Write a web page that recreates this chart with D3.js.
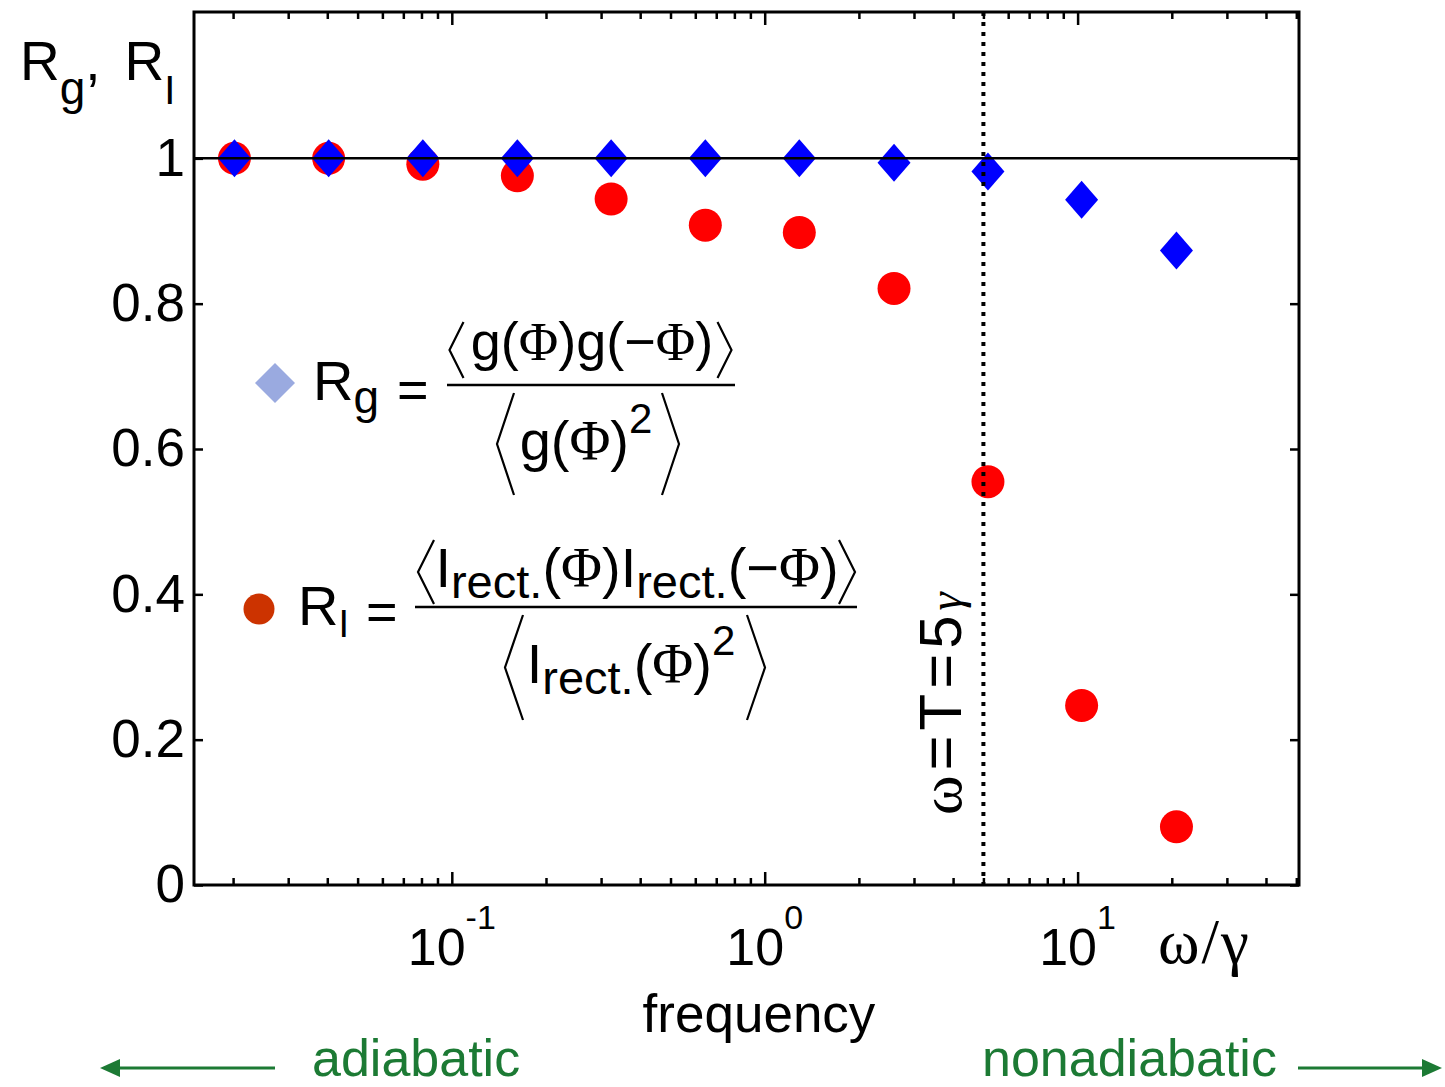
<!DOCTYPE html>
<html>
<head>
<meta charset="utf-8">
<script src="https://cdn.jsdelivr.net/npm/d3@7"></script>
<style>
  html, body { margin: 0; padding: 0; background: #fff; }
  svg { display: block; }
</style>
</head>
<body>
<script>
// ---------------- data ----------------
const freq = [0.0202, 0.0404, 0.0808, 0.162, 0.323, 0.646, 1.29, 2.59, 5.17, 10.3, 20.7];
const Rg   = [1.0, 1.0, 1.0, 1.0, 1.0, 1.0, 1.0, 0.994, 0.982, 0.943, 0.873];
const RI   = [1.0, 1.0, 0.992, 0.976, 0.944, 0.908, 0.898, 0.821, 0.555, 0.247, 0.080];
const yTicks = [0, 0.2, 0.4, 0.6, 0.8, 1];
const yTickLabels = ["0", "0.2", "0.4", "0.6", "0.8", "1"];
const xMajor = [0.1, 1, 10];
const xMajorExp = ["-1", "0", "1"];
const xMinor = [0.02, 0.03, 0.04, 0.05, 0.06, 0.07, 0.08, 0.09,
                0.2, 0.3, 0.4, 0.5, 0.6, 0.7, 0.8, 0.9,
                2, 3, 4, 5, 6, 7, 8, 9,
                20, 30, 40, 50];
const markLine = 5;          // ω = T = 5γ
const refLine = 1;           // horizontal reference R = 1
const xDomain = [0.015, 51];
const yDomain = [0, 1.2];

// ---------------- setup ----------------
const W = 1445, H = 1087;
const SANS = "'Liberation Sans', Arial, Helvetica, sans-serif";
const SERIF = "'Liberation Serif', 'Times New Roman', serif";
const L = 194, R = 1299, T = 12, B = 885;

const svg = d3.select("body").append("svg").attr("width", W).attr("height", H)
  .style("font-family", SANS);
svg.append("rect").attr("width", W).attr("height", H).attr("fill", "#fff");

const x = d3.scaleLog().domain(xDomain).range([L, R]);
const y = d3.scaleLinear().domain(yDomain).range([B, T + 1]);

// ---------------- axes (ticks inside, MATLAB style) ----------------
function styleAxis(g) {
  g.select(".domain").remove();
  g.selectAll(".tick line").attr("stroke", "#000").attr("stroke-width", 2.5);
}
svg.append("g").attr("transform", `translate(0,${B})`)
  .call(d3.axisBottom(x).tickValues(xMajor).tickSize(-13).tickFormat(""))
  .call(styleAxis);
svg.append("g").attr("transform", `translate(0,${B})`)
  .call(d3.axisBottom(x).tickValues(xMinor).tickSize(-7).tickFormat(""))
  .call(styleAxis);
svg.append("g").attr("transform", `translate(0,${T})`)
  .call(d3.axisTop(x).tickValues(xMajor).tickSize(-13).tickFormat(""))
  .call(styleAxis);
svg.append("g").attr("transform", `translate(0,${T})`)
  .call(d3.axisTop(x).tickValues(xMinor).tickSize(-7).tickFormat(""))
  .call(styleAxis);
const yl = svg.append("g").attr("transform", `translate(${L},0)`)
  .call(d3.axisLeft(y).tickValues(yTicks).tickSize(-9).tickPadding(9)
    .tickFormat((d, i) => yTickLabels[i]))
  .call(styleAxis);
yl.selectAll(".tick text").attr("font-size", 53).attr("font-family", SANS).attr("fill", "#000");
svg.append("g").attr("transform", `translate(${R},0)`)
  .call(d3.axisRight(y).tickValues(yTicks).tickSize(-9).tickFormat(""))
  .call(styleAxis);

// x tick labels 10^n
xMajor.forEach((v, i) => {
  const t = svg.append("text").attr("x", x(v)).attr("y", 965)
    .attr("text-anchor", "middle").attr("font-size", 52).attr("fill", "#000");
  t.append("tspan").text("10");
  t.append("tspan").text(xMajorExp[i]).attr("font-size", 34).attr("dy", -36);
});

// frame
svg.append("rect").attr("x", L).attr("y", T).attr("width", R - L).attr("height", B - T)
  .attr("fill", "none").attr("stroke", "#000").attr("stroke-width", 3);

// ---------------- data marks ----------------
const pts = freq.map((f, i) => ({ f, g: Rg[i], I: RI[i] }));
svg.append("g").selectAll("circle").data(pts).join("circle")
  .attr("cx", d => x(d.f)).attr("cy", d => y(d.I)).attr("r", 16.5)
  .attr("fill", "#ff0000");
svg.append("g").selectAll("path").data(pts).join("path")
  .attr("transform", d => `translate(${x(d.f)},${y(d.g)})`)
  .attr("d", "M0,-19L16.5,0L0,19L-16.5,0Z")
  .attr("fill", "#0000ff");

svg.append("line").attr("x1", L).attr("x2", R).attr("y1", y(refLine)).attr("y2", y(refLine))
  .attr("stroke", "#000").attr("stroke-width", 2.5);
svg.append("line").attr("x1", x(markLine)).attr("x2", x(markLine)).attr("y1", T).attr("y2", B)
  .attr("stroke", "#000").attr("stroke-width", 4).attr("stroke-dasharray", "4,6");

// rotated label
const rot = svg.append("text").attr("transform", `translate(961,815) rotate(-90)`)
  .attr("font-size", 60).attr("fill", "#000").attr("letter-spacing", 5);
rot.append("tspan").text("ω").attr("font-family", SERIF);
rot.append("tspan").text("=T=5");
rot.append("tspan").text("γ").attr("font-family", SERIF).attr("font-style", "italic").attr("font-size", 46);

// ---------------- axis titles ----------------
const yt = svg.append("text").attr("x", 20).attr("y", 80).attr("font-size", 55).attr("fill", "#000");
yt.append("tspan").text("R");
yt.append("tspan").text("g").attr("font-size", 46).attr("dy", 24);
yt.append("tspan").text(",").attr("dy", -24);
yt.append("tspan").text("R").attr("dx", 24);
yt.append("tspan").text("I").attr("font-size", 40).attr("dy", 24);

svg.append("text").attr("x", 1158).attr("y", 963).attr("font-size", 63)
  .attr("font-family", SERIF).attr("letter-spacing", 2).attr("fill", "#000").text("ω/γ");

svg.append("text").attr("x", 759).attr("y", 1032).attr("text-anchor", "middle")
  .attr("font-size", 53).attr("fill", "#000").text("frequency");

const green = "#1c7a34";
svg.append("text").attr("x", 312).attr("y", 1076).attr("font-size", 52).attr("fill", green).text("adiabatic");
svg.append("text").attr("x", 982).attr("y", 1076).attr("font-size", 52).attr("fill", green).text("nonadiabatic");
function arrow(x1, x2, yy) {
  const dir = Math.sign(x2 - x1);
  svg.append("line").attr("x1", x1).attr("x2", x2 - dir * 16).attr("y1", yy).attr("y2", yy)
    .attr("stroke", green).attr("stroke-width", 3);
  svg.append("path").attr("d", `M${x2},${yy}L${x2 - dir * 20},${yy - 9}L${x2 - dir * 20},${yy + 9}Z`)
    .attr("fill", green);
}
arrow(275, 100, 1068);
arrow(1298, 1442, 1068);

// ---------------- legend formulas ----------------
function rich(x0, y0, size, anchor, runs) {
  const t = svg.append("text").attr("x", x0).attr("y", y0).attr("font-size", size)
    .attr("text-anchor", anchor).attr("fill", "#000");
  runs.forEach(r => {
    const s = t.append("tspan").text(r.t);
    if (r.serif) s.attr("font-family", SERIF);
    if (r.size) s.attr("font-size", r.size);
    if (r.dy) s.attr("dy", r.dy);
  });
  return t;
}
function brackets(cx, half, top, bot, w) {
  const m = (top + bot) / 2;
  svg.append("path")
    .attr("d", `M${cx - half + w},${top}L${cx - half},${m}L${cx - half + w},${bot}` +
               `M${cx + half - w},${top}L${cx + half},${m}L${cx + half - w},${bot}`)
    .attr("fill", "none").attr("stroke", "#000").attr("stroke-width", 2.2);
}
function bar(x1, x2, yy) {
  svg.append("line").attr("x1", x1).attr("x2", x2).attr("y1", yy).attr("y2", yy)
    .attr("stroke", "#000").attr("stroke-width", 2.5);
}

// legend 1: R_g
svg.append("path").attr("transform", "translate(275,383)")
  .attr("d", "M0,-20L20,0L0,20L-20,0Z").attr("fill", "#9aaae0");
rich(313, 400, 56, "start", [{ t: "R" }, { t: "g", size: 46, dy: 13 }]);
svg.append("text").attr("x", 397).attr("y", 408).attr("font-size", 54).attr("fill", "#000").text("=");
bar(447, 735, 385);
rich(592, 360, 54, "middle", [
  { t: "g(" }, { t: "Φ", serif: true }, { t: ")g(−" }, { t: "Φ", serif: true }, { t: ")" }]);
brackets(590.5, 141, 322, 378, 14);
rich(586, 460, 56, "middle", [
  { t: "g(" }, { t: "Φ", serif: true }, { t: ")" }, { t: "2", size: 42, dy: -27 }]);
brackets(588, 91, 393, 495, 17);

// legend 2: R_I
svg.append("circle").attr("cx", 259).attr("cy", 609).attr("r", 15.5).attr("fill", "#cc3300");
rich(298, 625, 56, "start", [{ t: "R" }, { t: "I", size: 38, dy: 12 }]);
svg.append("text").attr("x", 366).attr("y", 630).attr("font-size", 54).attr("fill", "#000").text("=");
bar(415, 857, 607);
rich(637, 587, 56, "middle", [
  { t: "I" }, { t: "rect.", size: 47, dy: 11 }, { t: "(", dy: -11 }, { t: "Φ", serif: true }, { t: ")" },
  { t: "I" }, { t: "rect.", size: 47, dy: 11 }, { t: "(−", dy: -11 }, { t: "Φ", serif: true }, { t: ")" }]);
brackets(636.5, 218.5, 540, 604, 16);
rich(631, 683, 56, "middle", [
  { t: "I" }, { t: "rect.", size: 47, dy: 11 }, { t: "(", dy: -11 }, { t: "Φ", serif: true }, { t: ")" },
  { t: "2", size: 42, dy: -28 }]);
brackets(635, 130, 615, 720, 18);
</script>
</body>
</html>
